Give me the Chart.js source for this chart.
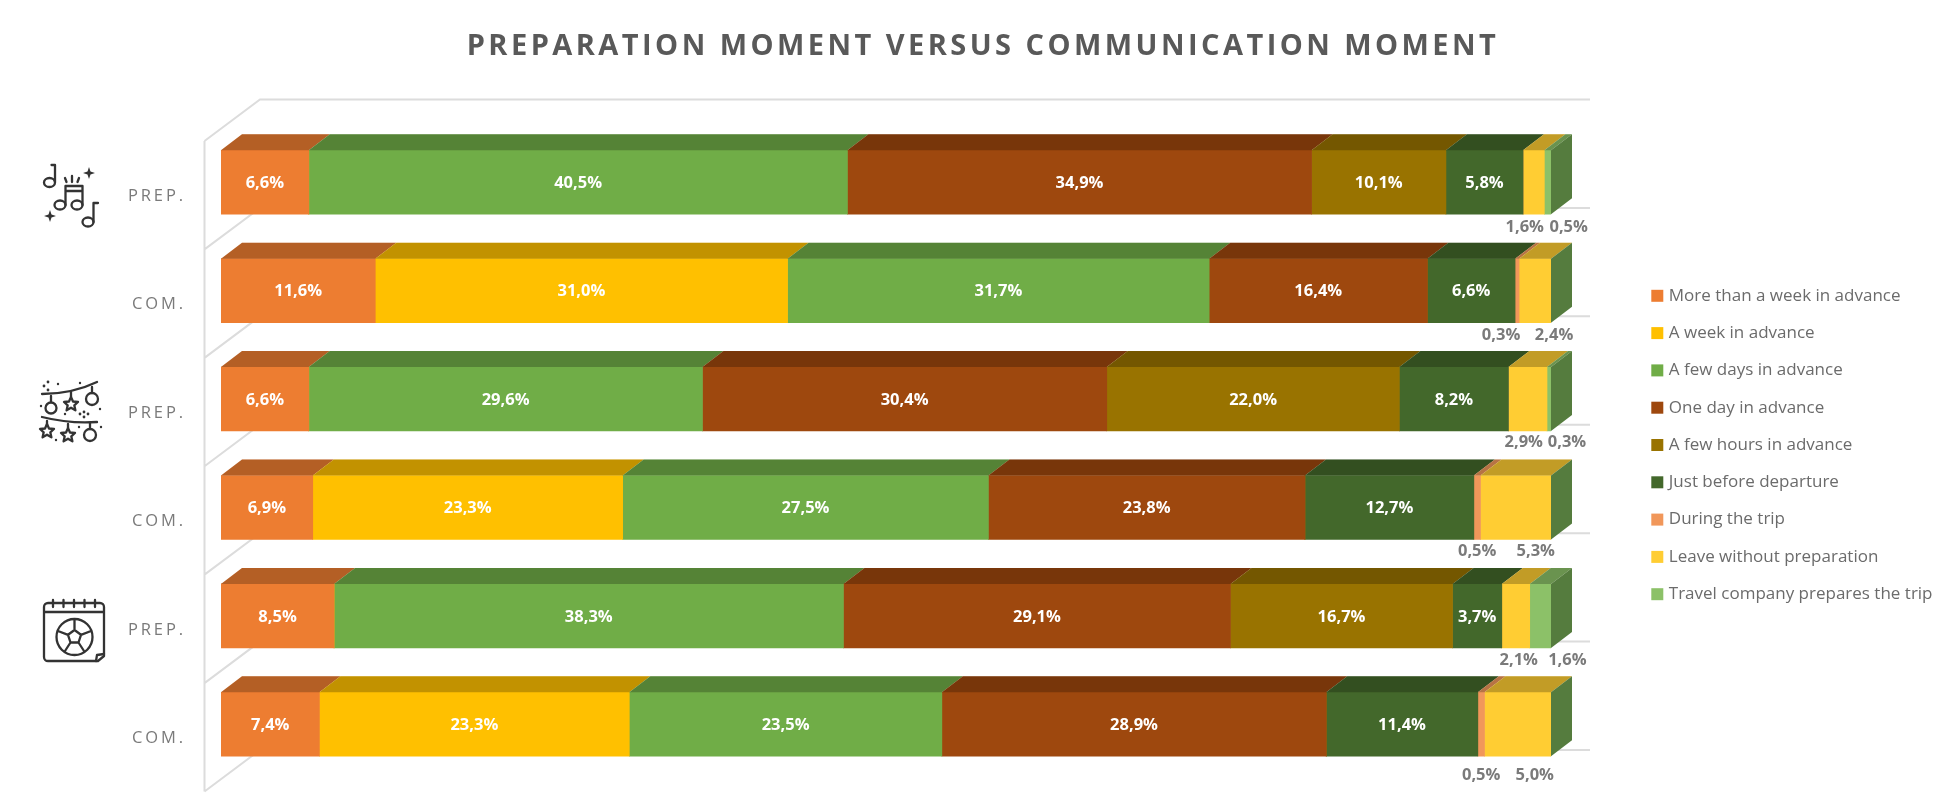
<!DOCTYPE html>
<html>
<head>
<meta charset="utf-8">
<title>Preparation moment versus communication moment</title>
<script src="https://cdn.jsdelivr.net/npm/chart.js@4"></script>
<style>
html,body{margin:0;padding:0;background:#fff;width:1944px;height:807px;overflow:hidden}
#wrap{position:relative;width:1944px;height:807px}
canvas{display:block}
svg{position:absolute;left:0;top:0;pointer-events:none}
svg .i{fill:none;stroke:#333;stroke-width:2.3;stroke-linecap:round;stroke-linejoin:round}
svg .f{fill:#333;stroke:none}
</style>
</head>
<body>
<div id="wrap">
<canvas id="c" width="1944" height="807"></canvas>
<svg width="1944" height="807" viewBox="0 0 1944 807">
  <!-- music -->
  <g class="i">
    <ellipse cx="49.500" cy="182.500" rx="5.500" ry="4.500"/><path d="M55 182V165H51.500"/>
    <ellipse cx="60" cy="205" rx="5.500" ry="4.500"/><ellipse cx="77" cy="205" rx="5.500" ry="4.500"/>
    <path d="M65.500 205V186H82.500V205M66 191H82"/>
    <path d="M65 178l1.500 4M72 176v6M79 178l-1.500 4"/>
    <ellipse cx="88" cy="222" rx="5.500" ry="4.500"/><path d="M93.500 222V203H98"/>
  </g>
  <path class="f" d="M89 167l1.500 4.500 4.500 1.500-4.500 1.500-1.500 4.500-1.500-4.500-4.500-1.500 4.500-1.500zM50 210l1.500 4.500 4.500 1.500-4.500 1.500-1.500 4.500-1.500-4.500-4.500-1.500 4.500-1.500z"/>
  <!-- string lights -->
  <g class="i">
    <path d="M42 394Q72 394 97 382M42 417Q70 424 97 422"/>
    <path d="M51 396v6M71 392v5M92 387v6M47 421v4M68 424v4M90 423v6"/>
    <circle cx="51" cy="408" r="5.500"/><circle cx="92" cy="399" r="6"/><circle cx="90" cy="435" r="6"/>
    <path d="M71 397l2 4.500 5 .5-3.700 3.300 1.100 5-4.400-2.600-4.400 2.600 1.100-5-3.700-3.300 5-.5z"/>
    <path d="M47 424l2 4.500 5 .5-3.700 3.300 1.100 5-4.400-2.600-4.400 2.600 1.100-5-3.700-3.300 5-.5z"/>
    <path d="M68 428l2 4.500 5 .5-3.700 3.300 1.100 5-4.400-2.600-4.400 2.600 1.100-5-3.700-3.300 5-.5z"/>
  </g>
  <g class="f">
    <circle cx="44" cy="386" r="1.400"/><circle cx="48" cy="382" r="1.400"/><circle cx="48" cy="390" r="1.400"/><circle cx="58" cy="384" r="1.200"/><circle cx="80" cy="383" r="1.200"/>
    <circle cx="84" cy="412" r="1.400"/><circle cx="80" cy="414" r="1.400"/><circle cx="88" cy="414" r="1.400"/><circle cx="84" cy="417" r="1.400"/><circle cx="65" cy="414" r="1.200"/><circle cx="41" cy="406" r="1.200"/><circle cx="100" cy="409" r="1.200"/><circle cx="56" cy="440" r="1.200"/><circle cx="101" cy="427" r="1.200"/><circle cx="79" cy="427" r="1.200"/>
  </g>
  <!-- calendar with ball -->
  <g class="i">
    <path d="M48 603H100a4 4 0 0 1 4 4V656L98 661H48a4 4 0 0 1-4-4V607a4 4 0 0 1 4-4zM44 612H104"/>
    <path d="M96 661L97 655L104 654"/>
    <path d="M53 600v7M63.500 600v7M74 600v7M84.500 600v7M95 600v7"/>
    <circle cx="74.500" cy="637" r="18"/>
    <path d="M74.500 630l6.500 4.800-2.500 7.700h-8l-2.500-7.700zM74.500 630V620M81 634.800L91 631M78.500 642.500L84 651M70.500 642.500L65 651M68 634.800L58 631"/>
  </g>
</svg>
</div>
<script>
// ---- Data (percent) ----
const categories = ["PREP.", "COM.", "PREP.", "COM.", "PREP.", "COM."];
const seriesNames = ["More than a week in advance", "A week in advance", "A few days in advance", "One day in advance", "A few hours in advance", "Just before departure", "During the trip", "Leave without preparation", "Travel company prepares the trip"];
const moreThanWeek = [6.6, 11.6, 6.6, 6.9, 8.5, 7.4];
const aWeek        = [0, 31.0, 0, 23.3, 0, 23.3];
const fewDays      = [40.5, 31.7, 29.6, 27.5, 38.3, 23.5];
const oneDay       = [34.9, 16.4, 30.4, 23.8, 29.1, 28.9];
const fewHours     = [10.1, 0, 22.0, 0, 16.7, 0];
const justBefore   = [5.8, 6.6, 8.2, 12.7, 3.7, 11.4];
const duringTrip   = [0, 0.3, 0, 0.5, 0, 0.5];
const noPreparation= [1.6, 2.4, 2.9, 5.3, 2.1, 5.0];
const travelCompany= [0.5, 0, 0.3, 0, 1.6, 0];
const seriesValues = [moreThanWeek, aWeek, fewDays, oneDay, fewHours, justBefore, duringTrip, noPreparation, travelCompany];
const seriesColors = ["#ED7D31", "#FFC000", "#70AD47", "#9E480E", "#997300", "#43682B", "#F1975A", "#FFCD33", "#8CC168"];

// ---- Label placement of the small segments, printed below the bar ----
const shiftDuring  = [0, -16, 0, 0, 0, 0];
const shiftLeave   = [-9, 19, -4, 20, 3, 17];
const shiftCompany = [21, 0, 18, 0, 27, 0];
const outsideShifts = {6: shiftDuring, 7: shiftLeave, 8: shiftCompany};
const outsideDrop  = [13, 13, 11, 12, 12, 19];

const DEPTH_X = 21, DEPTH_Y = 16;
const FONT = '"Open Sans", sans-serif';
const fmt = v => v.toFixed(1).replace('.', ',') + '%';

const wallsAndDepth = {
  id: 'wallsAndDepth',
  afterLayout(chart) {
    const lg = chart.legend, tt = chart.titleBlock, ys = chart.scales.y, ca = chart.chartArea;
    lg.left = 1634; lg.right = 1944; lg.top = 267; lg.bottom = 650;
    tt.left = 22; tt.right = 1944;
    // plot area spans the six category bands of the reference
    ca.top = 128; ca.bottom = 778.5; ca.height = ca.bottom - ca.top;
    ys.top = ca.top; ys.bottom = ca.bottom; ys.height = ca.height;
    ys.configure();
    if (!chart.$wrapped) {
      chart.$wrapped = true;
      const spaced = (obj, name, sp) => {
        const orig = obj[name];
        obj[name] = function (...a) {
          const ctx = chart.ctx; ctx.save(); ctx.letterSpacing = sp;
          const r = orig.apply(this, a); ctx.restore(); return r;
        };
      };
      spaced(tt, 'draw', '3.45px');
      spaced(ys, 'drawLabels', '2.9px');
    }
  },
  beforeDatasetsDraw(chart) {
    const {ctx, scales: {x, y}} = chart;
    const band = y.getPixelForValue(1) - y.getPixelForValue(0);
    const edges = [];
    for (let i = 0; i <= categories.length; i++) edges.push(y.getPixelForValue(0) - band / 2 + i * band);
    const fx = x.left - 16.5, bx = x.left + 39, rx = x.right + 39;
    ctx.save();
    ctx.strokeStyle = '#DCDCDC'; ctx.lineWidth = 2;
    ctx.beginPath();
    ctx.moveTo(fx, edges[0] + 13); ctx.lineTo(fx, edges[edges.length - 1] + 13);
    edges.forEach(e => {
      ctx.moveTo(fx, e + 13); ctx.lineTo(bx, e - 28.5); ctx.lineTo(rx, e - 28.5);
    });
    ctx.stroke();
    ctx.restore();
  },
  afterDatasetsDraw(chart) {
    const {ctx, scales: {x}} = chart;
    const right = x.getPixelForValue(100);
    ctx.save();
    // top faces and right side
    seriesValues.forEach((vals, s) => {
      const meta = chart.getDatasetMeta(s);
      meta.data.forEach((el, r) => {
        if (!vals[r]) return;
        const p = el.getProps(['x', 'base', 'y', 'height'], true);
        const top = p.y - p.height / 2;
        ctx.beginPath();
        ctx.moveTo(p.base, top); ctx.lineTo(p.x, top);
        ctx.lineTo(p.x + DEPTH_X, top - DEPTH_Y); ctx.lineTo(p.base + DEPTH_X, top - DEPTH_Y);
        ctx.closePath();
        ctx.fillStyle = seriesColors[s]; ctx.fill();
        ctx.fillStyle = 'rgba(0,0,0,0.24)'; ctx.fill();
      });
    });
    chart.getDatasetMeta(0).data.forEach(el => {
      const p = el.getProps(['y', 'height'], true);
      const top = p.y - p.height / 2, bot = p.y + p.height / 2;
      ctx.beginPath();
      ctx.moveTo(right, top); ctx.lineTo(right + DEPTH_X, top - DEPTH_Y);
      ctx.lineTo(right + DEPTH_X, bot - DEPTH_Y); ctx.lineTo(right, bot);
      ctx.closePath();
      ctx.fillStyle = '#557C3E'; ctx.fill();
    });
    // value labels
    ctx.font = '700 16.5px ' + FONT;
    ctx.textAlign = 'center'; ctx.textBaseline = 'middle';
    seriesValues.forEach((vals, s) => {
      const meta = chart.getDatasetMeta(s);
      meta.data.forEach((el, r) => {
        const v = vals[r];
        if (!v) return;
        const p = el.getProps(['x', 'base', 'y', 'height'], true);
        const cx = (p.x + p.base) / 2;
        if (s >= 6) {
          ctx.fillStyle = '#7A7A7A';
          ctx.fillText(fmt(v), cx + outsideShifts[s][r], p.y + p.height / 2 + outsideDrop[r]);
        } else {
          ctx.fillStyle = '#FFFFFF';
          ctx.fillText(fmt(v), cx, p.y + 1);
        }
      });
    });
    ctx.restore();
  }
};

new Chart(document.getElementById('c'), {
  type: 'bar',
  data: {
    labels: categories,
    datasets: seriesNames.map((name, i) => ({
      label: name,
      data: seriesValues[i],
      backgroundColor: seriesColors[i],
      borderWidth: 0,
      barThickness: 64
    }))
  },
  plugins: [wallsAndDepth],
  options: {
    indexAxis: 'y',
    responsive: false,
    animation: false,
    events: [],
    layout: {autoPadding: false, padding: {left: 0, right: 393, top: 0, bottom: 12}},
    scales: {
      x: {stacked: true, min: 0, max: 100, display: false},
      y: {
        stacked: true,
        afterFit(s) { s.width = 221; },
        grid: {display: false, drawTicks: false},
        border: {display: false},
        ticks: {
          color: '#7A7A7A',
          padding: 35,
          labelOffset: 14,
          font: {family: FONT, size: 16.5}
        }
      }
    },
    plugins: {
      tooltip: {enabled: false},
      title: {
        display: true,
        text: 'PREPARATION MOMENT VERSUS COMMUNICATION MOMENT',
        color: '#595959',
        font: {family: FONT, size: 29, weight: '700', lineHeight: 1.2},
        padding: {top: 29.6, bottom: 63.6}
      },
      legend: {
        position: 'chartArea',
        align: 'start',
        labels: {
          color: '#6B6B6B',
          font: {family: FONT, size: 17},
          boxWidth: 6,
          boxHeight: 6,
          padding: 20.3,
          generateLabels: () => seriesNames.map((n, i) => ({
            text: n, fillStyle: seriesColors[i], strokeStyle: seriesColors[i],
            lineWidth: 6, lineJoin: 'miter', datasetIndex: i, fontColor: '#6B6B6B'
          }))
        }
      }
    }
  }
});
</script>
</body>
</html>
